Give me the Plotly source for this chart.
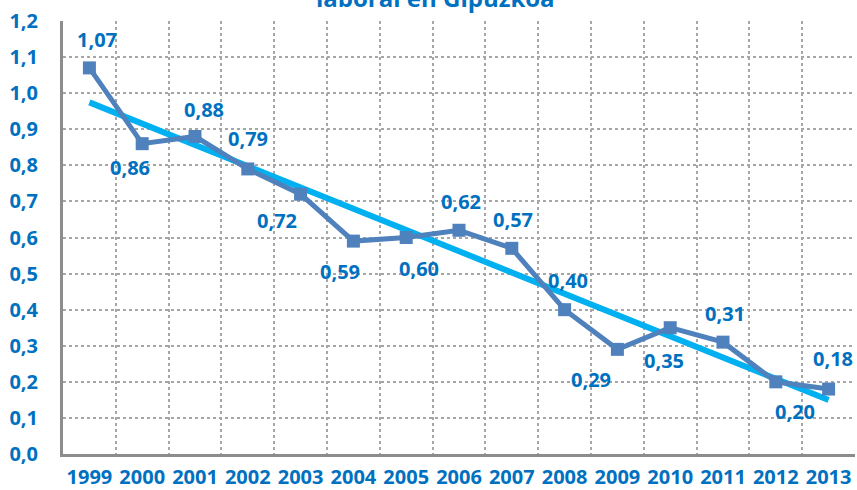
import plotly.graph_objects as go
import numpy as np

years = ["1999", "2000", "2001", "2002", "2003", "2004", "2005", "2006",
         "2007", "2008", "2009", "2010", "2011", "2012", "2013"]
values = [1.07, 0.86, 0.88, 0.79, 0.72, 0.59, 0.60, 0.62,
          0.57, 0.40, 0.29, 0.35, 0.31, 0.20, 0.18]
y_ticks = [0.0, 0.1, 0.2, 0.3, 0.4, 0.5, 0.6, 0.7, 0.8, 0.9, 1.0, 1.1, 1.2]
title_text = "laboral en Gipuzkoa"

# label offsets (pixels) relative to each point
label_dx = [8, -12, 9, 0, -24, -13, 13, 2, 1, 3, -26, -6, 2, 19, 4]
label_dy = [-28, 24, -27, -30, 26, 30, 31, -29, -29, -29, 30, 33, -29, 30, -31]

x = np.arange(len(years))
slope, intercept = np.polyfit(x, values, 1)
trend = slope * x + intercept

BLUE_TXT = "#0070C0"
FONT = "Open Sans"
FS = 20

fig = go.Figure()
fig.add_trace(go.Scatter(
    x=x, y=trend, mode="lines",
    line=dict(color="#00B0F0", width=6),
    hoverinfo="skip", showlegend=False))
fig.add_trace(go.Scatter(
    x=x, y=values, mode="lines+markers",
    line=dict(color="#4F81BD", width=5),
    marker=dict(symbol="square", size=13, color="#4F81BD"),
    showlegend=False))

for i, v in enumerate(values):
    fig.add_annotation(
        x=x[i], y=v, xref="x", yref="y",
        text=f"{v:.2f}".replace(".", ","),
        showarrow=False, xshift=label_dx[i], yshift=-label_dy[i],
        font=dict(family=FONT, size=FS, color=BLUE_TXT, weight="bold"))

fig.add_annotation(
    x=0.47, y=1.0, xref="paper", yref="paper",
    text=title_text, showarrow=False,
    xanchor="center", yanchor="bottom", yshift=5,
    font=dict(family=FONT, size=24, color=BLUE_TXT, weight="bold"))

fig.update_layout(
    width=857, height=490,
    margin=dict(l=63, r=2, t=21, b=36),
    paper_bgcolor="white", plot_bgcolor="white",
    separators=",.",
    font=dict(family=FONT, size=FS, color=BLUE_TXT),
)
fig.update_xaxes(
    range=[-0.5, 14.5], tickmode="array", tickvals=list(x), ticktext=years,
    showgrid=False, zeroline=False,
    showline=True, linecolor="#8C8C8C", linewidth=3,
    ticks="", ticklabelstandoff=3,
    tickfont=dict(family=FONT, size=FS, color=BLUE_TXT, weight="bold"),
    minor=dict(tickvals=[i + 0.5 for i in range(15)], showgrid=True,
               gridcolor="#A6A6A6", griddash="dot", gridwidth=1.5, ticks=""),
    automargin=False, fixedrange=True)
fig.update_yaxes(
    range=[0, 1.2], tickmode="array", tickvals=y_ticks,
    ticktext=[f"{t:.1f}".replace(".", ",") for t in y_ticks],
    showgrid=True, gridcolor="#A6A6A6", griddash="dot", gridwidth=1.5,
    zeroline=False, showline=True, linecolor="#8C8C8C", linewidth=3,
    ticks="", ticklabelstandoff=18,
    tickfont=dict(family=FONT, size=FS, color=BLUE_TXT, weight="bold"),
    automargin=False, fixedrange=True)

fig.write_html("out.html", config={"displayModeBar": False},
               post_script="document.body.style.margin='0';document.body.style.padding='0';")
